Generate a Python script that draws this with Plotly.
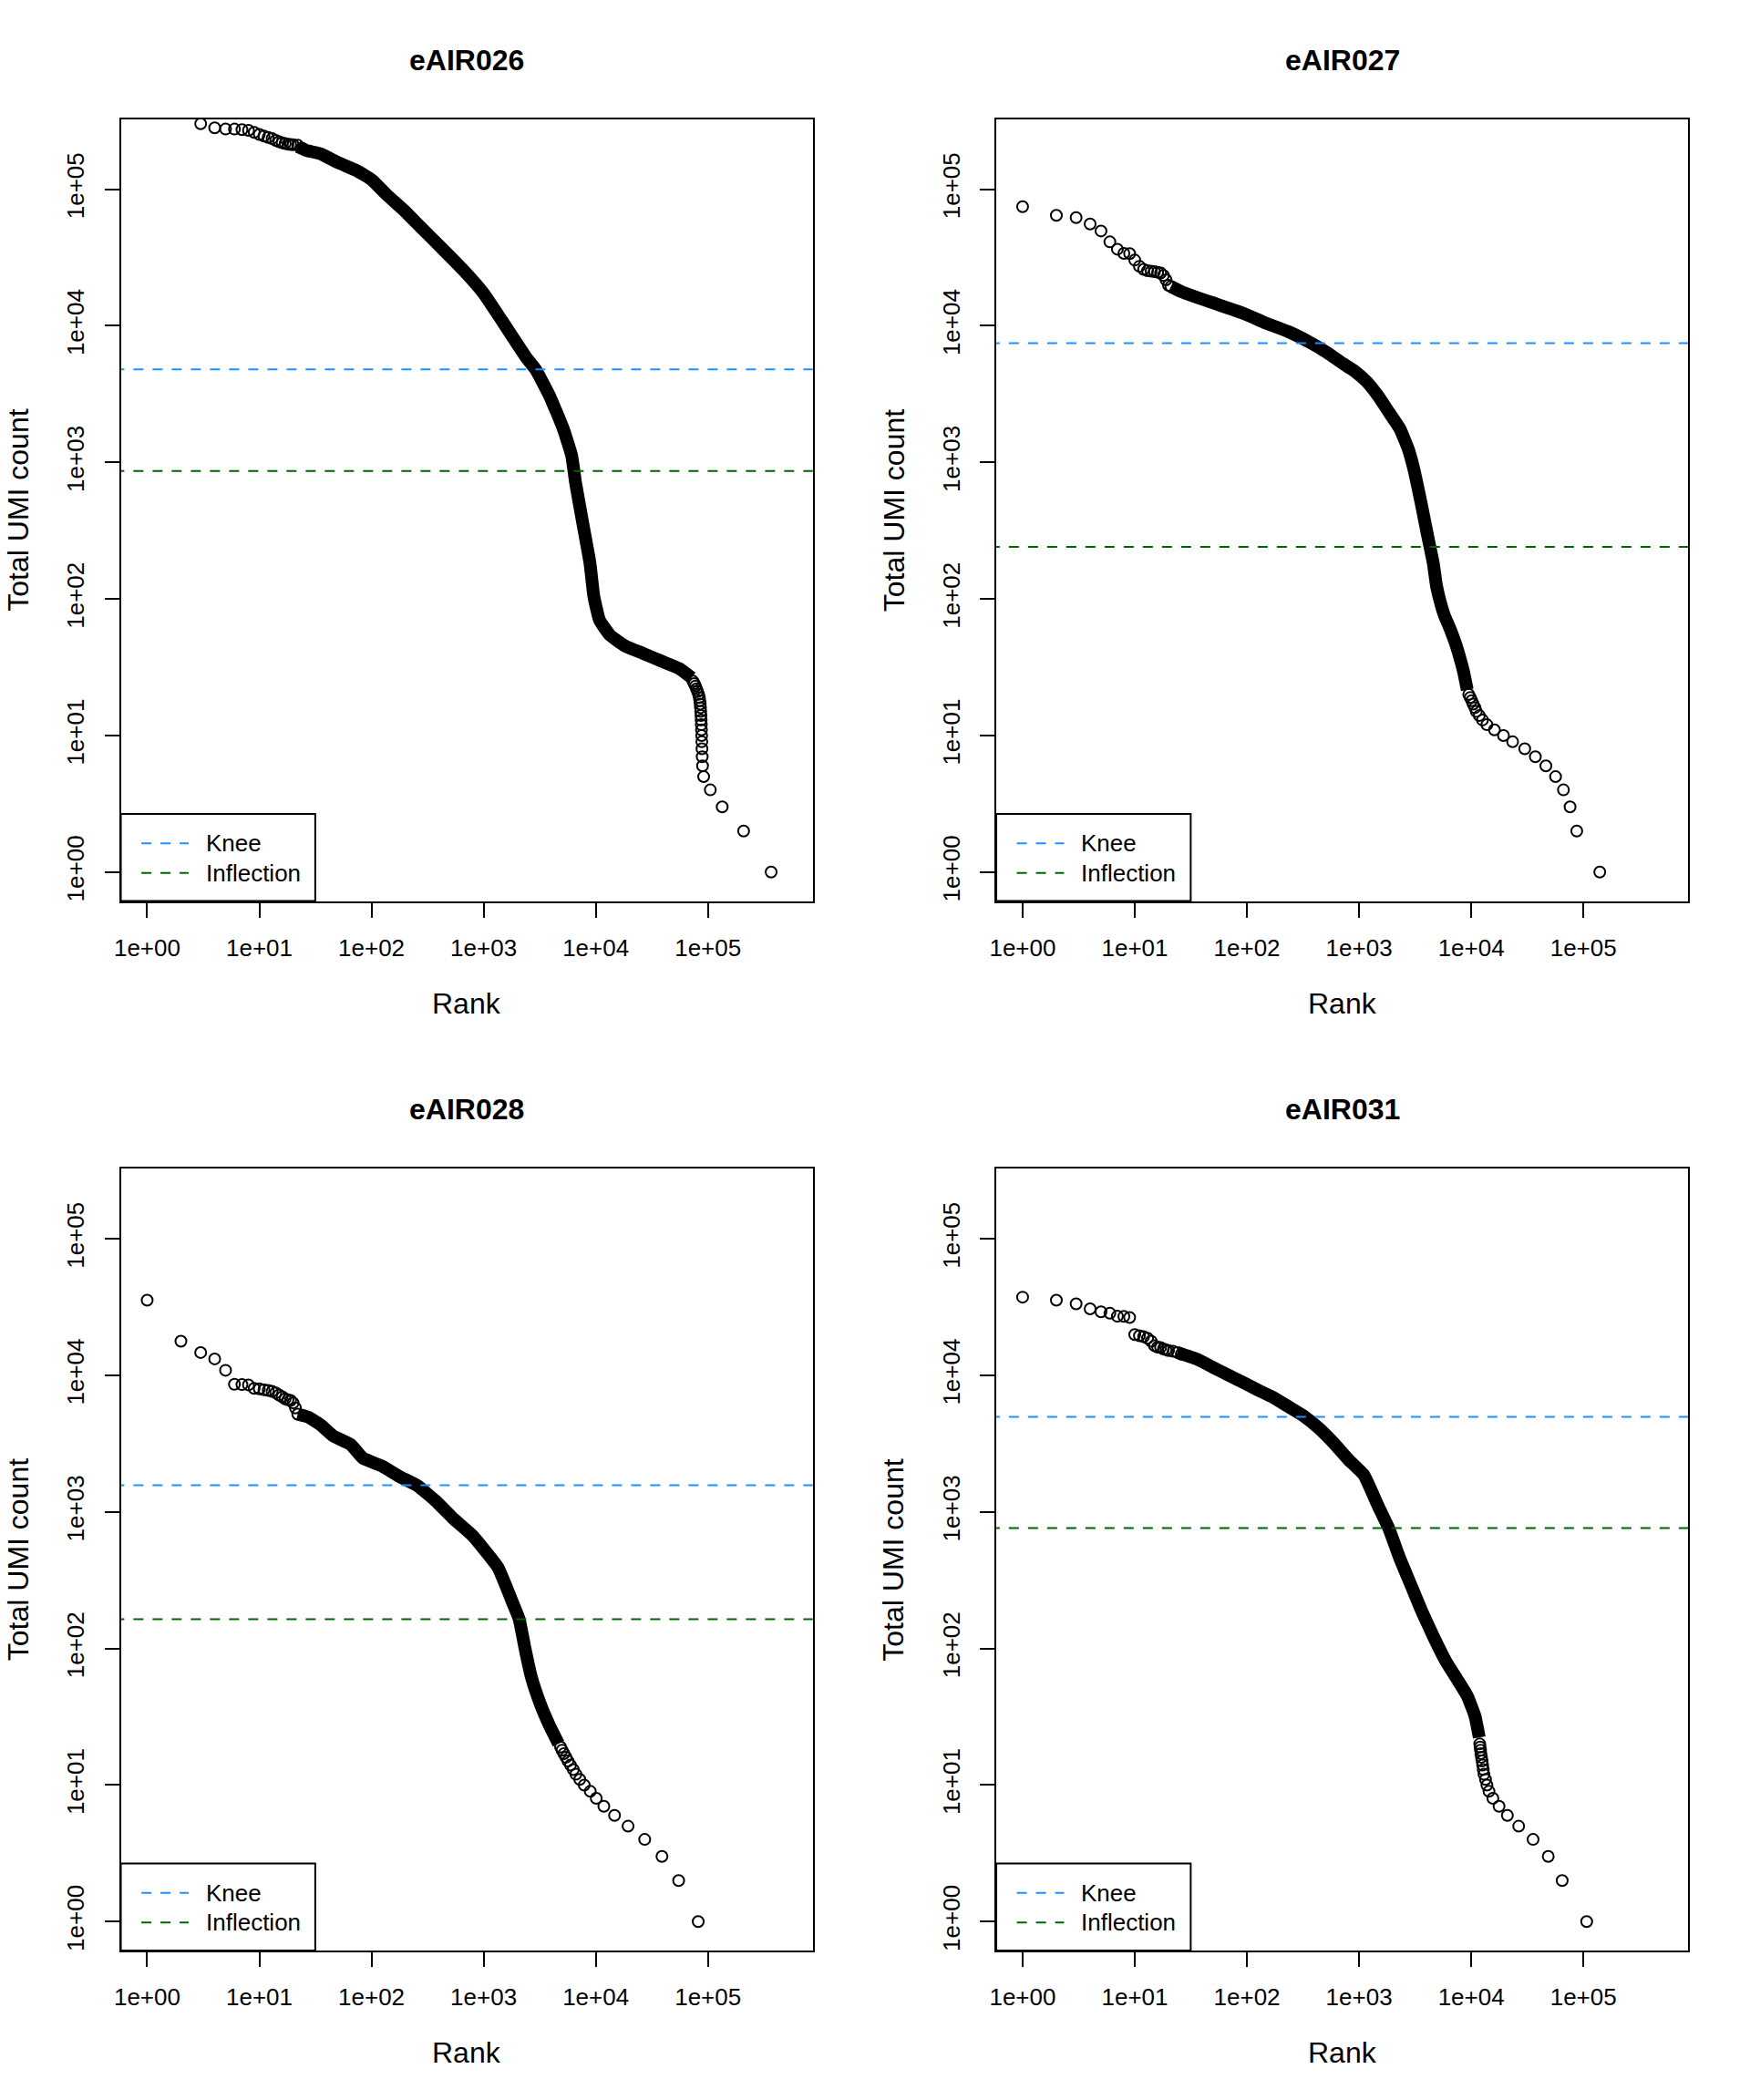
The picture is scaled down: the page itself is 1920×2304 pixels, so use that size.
import plotly.graph_objects as go

# ---------------- data ----------------
samples = ["eAIR026", "eAIR027", "eAIR028", "eAIR031"]
tick_vals = [1, 10, 100, 1000, 10000, 100000]
tick_text = ["1e+00", "1e+01", "1e+02", "1e+03", "1e+04", "1e+05"]

knee_umi = [4800, 7460, 1571, 4966]
inflection_umi = [864, 241, 164, 763]

# eAIR026
e026_top_rank = [3, 4, 5, 6, 7, 8, 9, 10, 11, 12, 13, 14, 15, 16, 17, 18, 19, 20, 22, 24]
e026_top_umi = [302000, 282000, 276000, 276000, 273000, 270000, 261000, 252000, 245000, 240000,
                235000, 228000, 223000, 219000, 216000, 214000, 213000, 212000, 210000, 200000]
e026_band_rank = [22, 26, 35, 51, 74, 101, 137, 200, 272, 421, 650, 1004, 1457, 2396, 2906,
                  3861, 5137, 6096, 6598, 7643, 8867, 9600, 10800, 13400, 18200, 26500, 38400,
                  55800, 71500]
e026_band_umi = [205000, 193000, 182000, 156000, 137000, 117000, 91000, 68700, 53200, 37200,
                 25900, 17200, 10900, 5880, 4800, 3090, 1760, 1120, 713, 362, 184, 105, 70, 54.3,
                 45.4, 39.9, 35.1, 30.9, 26.5]
e026_tail_rank = [73500, 75500, 77300, 79000, 80800, 82600, 83700, 84600, 85300, 85800, 86200,
                  86600, 87000, 87300, 87600, 87900, 88200, 88500, 88900, 89500, 91600, 105000,
                  134000, 208000, 366000]
e026_tail_umi = [25, 24, 23, 22, 21, 20, 19, 18, 17, 16, 15, 14, 13, 12, 11, 10, 9, 8, 7, 6, 5,
                 4, 3, 2, 1]

# eAIR027
e027_top_rank = list(range(1, 22))
e027_top_umi = [74600, 64500, 62000, 55700, 49500, 41200, 36400, 33900, 33800, 30300, 27300,
                25900, 25300, 25100, 24900, 24700, 24400, 23400, 21700, 19800, 19400]
e027_band_rank = [21, 26.5, 49, 92, 142, 233, 361, 523, 713, 900, 1170, 1469, 1845, 2316, 2746,
                  3078, 3566, 4090, 4581, 4900, 5300, 5757, 6500, 7222, 8000, 8570, 9210]
e027_band_umi = [19400, 17700, 14800, 12400, 10600, 9080, 7600, 6350, 5310, 4700, 3900, 3090,
                 2333, 1758, 1253, 893, 508, 289, 184, 125, 95, 76, 60, 47.5, 36, 29, 21.6]
e027_tail_rank = [9500, 9800, 10100, 10400, 10800, 11100, 11800, 12600, 13800, 16100, 19400,
                  23400, 30000, 37300, 46300, 56500, 66400, 76100, 87300, 140000]
e027_tail_umi = [20, 19, 18, 17, 16, 15, 14, 13, 12, 11, 10, 9, 8, 7, 6, 5, 4, 3, 2, 1]

# eAIR028
e028_top_rank = list(range(1, 23))
e028_top_umi = [35500, 17800, 14700, 13200, 10900, 8600, 8560, 8520, 8040, 7960, 7840, 7760,
                7630, 7450, 7180, 6960, 6720, 6620, 6550, 6290, 5770, 5200]
e028_band_rank = [22, 27.4, 35.1, 45, 65.3, 83.8, 122, 177, 256, 372, 540, 784, 1000, 1344,
                  1833, 2075, 2350, 2660, 3206, 3864, 4654]
e028_band_umi = [5200, 4940, 4350, 3630, 3115, 2477, 2180, 1820, 1560, 1208, 889, 680, 537, 392,
                 212, 164, 98.3, 62.1, 39.1, 27.3, 20.1]
e028_tail_rank = [4850, 5000, 5200, 5430, 5650, 5950, 6300, 6650, 7200, 7890, 8930, 10100,
                  11800, 14700, 19400, 27300, 38900, 54800, 81900]
e028_tail_umi = [19, 18, 17, 16, 15, 14, 13, 12, 11, 10, 9, 8, 7, 6, 5, 4, 3, 2, 1]

# eAIR031
e031_top_rank = list(range(1, 21)) + [22, 24, 26]
e031_top_umi = [37400, 35500, 33400, 30700, 29200, 28500, 27100, 27000, 26500, 19900, 19500,
                19200, 18700, 17800, 16500, 16100, 16000, 15600, 15400, 15200, 15000, 14700,
                14300]
e031_band_rank = [24, 36.2, 49.4, 67.3, 91.9, 125, 171, 233, 318, 434, 593, 807, 1102, 1469,
                  1845, 2316, 2906, 3650, 4654, 5970, 7640, 9210, 10800, 11800]
e031_band_umi = [14700, 13100, 11500, 10100, 8900, 7830, 6900, 5920, 5070, 4130, 3200, 2410,
                 1870, 1120, 754, 454, 290, 185, 120, 80, 58, 45, 32, 22.3]
e031_tail_rank = [11900, 12000, 12100, 12200, 12350, 12500, 12650, 12800, 13000, 13400, 13800,
                  14400, 15600, 17700, 21000, 26500, 35600, 48600, 64700, 107000]
e031_tail_umi = [20, 19, 18, 17, 16, 15, 14, 13, 12, 11, 10, 9, 8, 7, 6, 5, 4, 3, 2, 1]

top_rank = [e026_top_rank, e027_top_rank, e028_top_rank, e031_top_rank]
top_umi = [e026_top_umi, e027_top_umi, e028_top_umi, e031_top_umi]
band_rank = [e026_band_rank, e027_band_rank, e028_band_rank, e031_band_rank]
band_umi = [e026_band_umi, e027_band_umi, e028_band_umi, e031_band_umi]
tail_rank = [e026_tail_rank, e027_tail_rank, e028_tail_rank, e031_tail_rank]
tail_umi = [e026_tail_umi, e027_tail_umi, e028_tail_umi, e031_tail_umi]

# ---------------- layout ----------------
W, H = 1920, 2304
FONT = "Liberation Sans, Arial, Helvetica, sans-serif"
KNEE_COL = "#1E90FF"
INFL_COL = "#006400"
DASH = "11px,10px"

col_px = [(126, 888), (1090, 1852)]
row_px = [(131, 989), (1283, 2141)]

fig = go.Figure()
annotations = []
shapes = []

for i, name in enumerate(samples):
    r, c = divmod(i, 2)
    ax = "" if i == 0 else str(i + 1)
    xa, ya = "x" + ax, "y" + ax
    x0p, x1p = col_px[c]
    y0p, y1p = row_px[r]
    xdom = [x0p / W, x1p / W]
    ydom = [1 - y1p / H, 1 - y0p / H]

    common = dict(
        type="log", tickvals=tick_vals, ticktext=tick_text, ticks="outside",
        ticklen=16, tickwidth=2, tickcolor="black", showline=True, linewidth=2,
        linecolor="black", mirror=True, showgrid=False, zeroline=False,
        tickfont=dict(family=FONT, size=26, color="black"),
    )
    fig.update_layout(**{
        "xaxis" + ax: dict(common, domain=xdom, anchor=ya, range=[-0.235, 5.935],
                           ticklabelstandoff=11),
        "yaxis" + ax: dict(common, domain=ydom, anchor=xa, range=[-0.212, 5.512],
                           tickangle=-90, ticklabelstandoff=12),
    })

    # dense part of the rank curve (overlapping circles form a solid band)
    fig.add_trace(go.Scatter(
        x=band_rank[i], y=band_umi[i], mode="lines", xaxis=xa, yaxis=ya,
        line=dict(color="black", width=14, shape="spline", smoothing=0.4),
        hoverinfo="skip", showlegend=False))
    # individually visible barcodes
    fig.add_trace(go.Scatter(
        x=top_rank[i] + tail_rank[i], y=top_umi[i] + tail_umi[i], mode="markers",
        xaxis=xa, yaxis=ya,
        marker=dict(symbol="circle-open", size=12, color="black", line=dict(width=2, color="black")),
        hoverinfo="skip", showlegend=False))
    # knee and inflection lines
    for val, col in ((knee_umi[i], KNEE_COL), (inflection_umi[i], INFL_COL)):
        fig.add_trace(go.Scatter(
            x=[0.01, 1e7], y=[val, val], mode="lines", xaxis=xa, yaxis=ya,
            line=dict(color=col, width=2, dash=DASH), hoverinfo="skip", showlegend=False))

    # legend box
    shapes.append(dict(type="rect", xref=xa + " domain", yref=ya + " domain",
                       x0=0, x1=0.281, y0=0, y1=0.1113, fillcolor="white",
                       line=dict(color="black", width=2), layer="above"))
    for yy, col, lab in ((0.0737, KNEE_COL, "Knee"), (0.0359, INFL_COL, "Inflection")):
        shapes.append(dict(type="line", xref=xa + " domain", yref=ya + " domain",
                           x0=0.0297, x1=0.098, y0=yy, y1=yy,
                           line=dict(color=col, width=2, dash=DASH), layer="above"))
        annotations.append(dict(xref=xa + " domain", yref=ya + " domain", x=0.12, y=yy,
                                xanchor="left", yanchor="middle", text=lab, showarrow=False,
                                font=dict(family=FONT, size=26, color="black")))

    # panel title and axis titles
    xc = (x0p + x1p) / 2 / W
    annotations.append(dict(xref="paper", yref="paper", x=xc, y=1 - (y0p - 65) / H,
                            text="<b>" + name + "</b>", showarrow=False, xanchor="center",
                            yanchor="middle", font=dict(family=FONT, size=32, color="black")))
    annotations.append(dict(xref="paper", yref="paper", x=xc, y=1 - (y1p + 112) / H,
                            text="Rank", showarrow=False, xanchor="center", yanchor="middle",
                            font=dict(family=FONT, size=32, color="black")))
    annotations.append(dict(xref="paper", yref="paper", x=(x0p - 113) / W,
                            y=1 - (y0p + y1p) / 2 / H, text="Total UMI count", textangle=-90,
                            showarrow=False, xanchor="center", yanchor="middle",
                            font=dict(family=FONT, size=32, color="black")))

fig.update_layout(
    width=W, height=H, margin=dict(l=0, r=0, t=0, b=0),
    paper_bgcolor="white", plot_bgcolor="white", showlegend=False,
    annotations=annotations, shapes=shapes, font=dict(family=FONT, color="black"),
)

fig.write_html("out.html", config={"displayModeBar": False},
               post_script="document.body.style.margin='0px';")
